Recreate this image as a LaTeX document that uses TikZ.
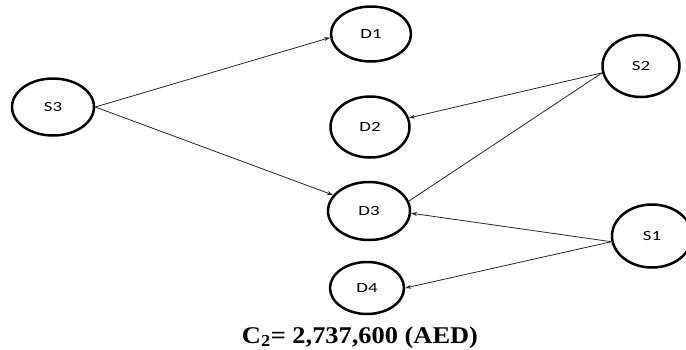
\documentclass[tikz,border=0pt]{standalone}
\usepackage{fontspec}
\setmainfont{Liberation Serif}
\newfontfamily\lblfont{Carlito}
\usetikzlibrary{shapes.geometric,arrows.meta}
\tikzset{
  place/.style={ellipse,draw=black,line width=2.5pt,inner sep=0pt,
    font=\lblfont\fontsize{14}{14}\selectfont},
  link/.style={draw=black!85,line width=0.8pt},
  arr/.style={link,-{Stealth[length=6pt,width=4pt]}}
}
\newcommand{\lbl}[1]{\scalebox{1.35}[1]{#1}}
\begin{document}
\begin{tikzpicture}[x=1pt,y=-1pt]
\useasboundingbox (0,0) rectangle (686,349);
\node[place,minimum width=80pt,minimum height=55pt] (D1) at (371,34) {\lbl{D1}};
\node[place,minimum width=82pt,minimum height=57pt] (S3) at (53,107) {\lbl{S3}};
\node[place,minimum width=77pt,minimum height=62pt] (S2) at (641,66) {\lbl{S2}};
\node[place,minimum width=79pt,minimum height=61pt] (D2) at (370,127) {\lbl{D2}};
\node[place,minimum width=82pt,minimum height=58pt] (D3) at (369,211) {\lbl{D3}};
\node[place,minimum width=80pt,minimum height=63pt] (S1) at (652,236) {\lbl{S1}};
\node[place,minimum width=74pt,minimum height=52pt] (D4) at (367,288) {\lbl{D4}};
\draw[arr] (S3.east) -- (D1.185);
\draw[arr] (S3.east) -- (D3.156);
\draw[arr] (S2.190) -- (D2);
\draw[link] (S2.190) -- (D3.14);
\draw[arr] (S1.188) -- (D3.-3);
\draw[arr] (S1.188) -- (D4.east);
\node[font=\bfseries\fontsize{24}{24}\selectfont,anchor=base] (title) at (360,343)
  {\scalebox{1.1}[1]{C\textsubscript{2}= 2,737,600 (AED)}};
\end{tikzpicture}
\end{document}
